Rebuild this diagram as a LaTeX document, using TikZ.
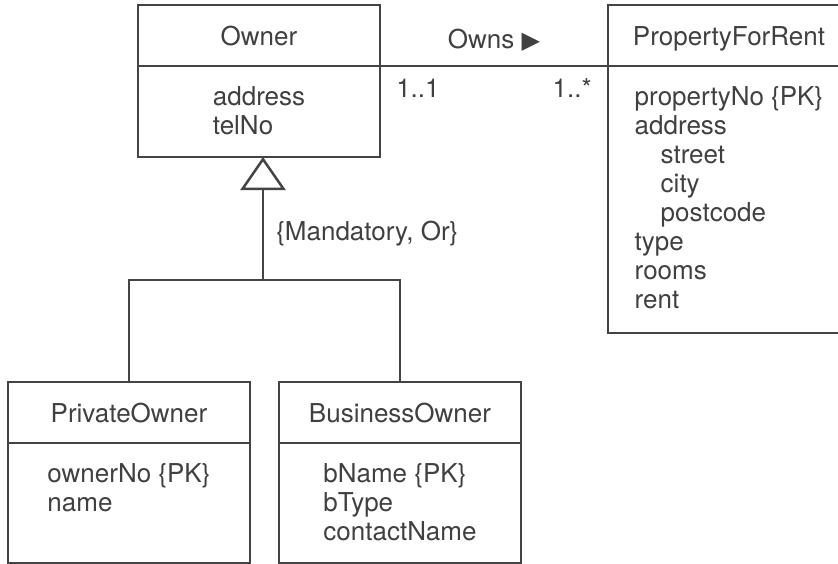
\documentclass[tikz,border=0pt]{standalone}
\usepackage{fontspec}
\setmainfont{TeX Gyre Heros}
\newfontfamily\symfont{DejaVu Sans}
\usetikzlibrary{positioning,arrows.meta}
\definecolor{umlline}{HTML}{444444}
\definecolor{umltext}{HTML}{404040}
\newcommand\rolearrow{{\symfont\fontsize{24}{24}\selectfont ▶}}
\tikzset{
  classname/.style={draw=umlline, line width=2.5pt, minimum width=242pt, minimum height=61pt,
    outer sep=0pt, anchor=north west, text height=20pt, text depth=0pt, text=umltext},
  classattr/.style={draw=umlline, line width=2.5pt, minimum width=242pt, outer sep=0pt},
  attrlist/.style={align=left, inner sep=0pt, text=umltext},
  umllabel/.style={inner sep=0pt, text=umltext},
  connector/.style={draw=umlline, line width=2.5pt},
}
\begin{document}
\begin{tikzpicture}[x=1pt, y=-1pt, font=\fontsize{26}{29}\selectfont]
\clip (0,0) rectangle (838,563);

% superclass
\node[classname] (owner) at (138,5) {Owner};
\node[classattr, minimum height=91pt, below=0pt of owner] (ownerattr) {};
\node[attrlist, below=20pt of ownerattr.north] (ownertxt) {address\\telNo};

% associated class
\node[classname] (property) at (608,5) {PropertyForRent};
\node[classattr, minimum height=267pt, below=0pt of property] (propertyattr) {};
\node[attrlist, below=20pt of propertyattr.north] (propertytxt)
  {propertyNo \{PK\}\\address\\\hspace*{26pt}street\\\hspace*{26pt}city\\\hspace*{26pt}postcode\\type\\rooms\\rent};

% subclasses
\node[classname] (private) at (8,382) {PrivateOwner};
\node[classattr, minimum height=120pt, below=0pt of private] (privateattr) {};
\node[attrlist, below=20pt of privateattr.north] (privatetxt) {ownerNo \{PK\}\\name};

\node[classname] (business) at (279,382) {BusinessOwner};
\node[classattr, minimum height=120pt, below=0pt of business] (businessattr) {};
\node[attrlist, below=20pt of businessattr.north] (businesstxt) {bName \{PK\}\\bType\\contactName};

% association
\draw[connector] (owner.south east) -- node[umllabel, midway, above=13pt] (owns) {Owns \rolearrow}
  node[umllabel, pos=0, anchor=base west, xshift=15pt, yshift=-31pt] (ownermult) {1..1}
  node[umllabel, pos=1, anchor=base east, xshift=-15pt, yshift=-31pt] (propertymult) {1..*}
  (property.south west);

% generalization
\coordinate (gen) at ([xshift=4pt]ownerattr.south);
\coordinate (split) at ([yshift=-123pt]gen);
\draw[connector] (private.north) |- (split) -| (business.north);
\draw[connector, -{Triangle[open, width=45pt, length=33pt]}] (split) --
  node[umllabel, pos=0.38, right=12pt] (constraint) {\{Mandatory, Or\}} (gen);

\end{tikzpicture}
\end{document}
